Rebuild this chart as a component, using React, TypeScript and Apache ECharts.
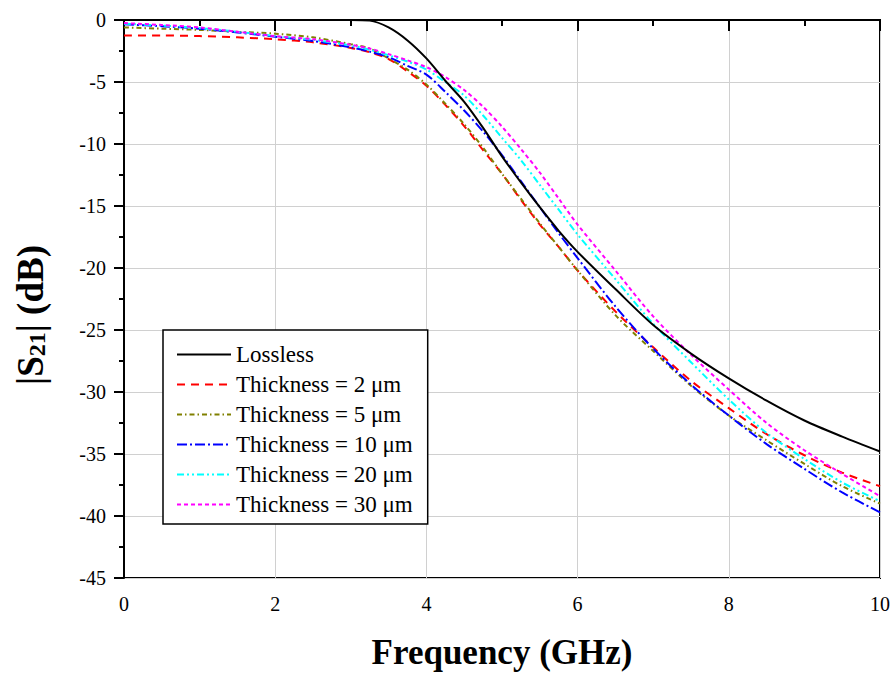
import { useEffect, useRef } from "react";
import * as echarts from "echarts";

const freq = [0, 0.5, 1, 1.5, 2, 2.5, 3, 3.25, 3.5, 3.75, 4, 4.25, 4.5, 4.75, 5, 5.25, 5.5, 5.75, 6, 6.5, 7, 7.5, 8, 8.5, 9, 9.5, 10];
const lossless = [0, 0, 0, 0, 0, 0, 0, -0.05, -0.6, -1.65, -3.1, -4.9, -6.6, -8.7, -11.0, -13.1, -15.1, -17.0, -18.7, -21.7, -24.6, -26.9, -28.9, -30.7, -32.3, -33.6, -34.8];
const t2 = [-1.25, -1.25, -1.3, -1.4, -1.55, -1.8, -2.25, -2.6, -3.15, -4.15, -5.3, -6.85, -8.55, -10.5, -12.4, -14.5, -16.5, -18.3, -20.2, -23.5, -26.4, -29.1, -31.3, -33.4, -35.1, -36.5, -37.6];
const t5 = [-0.6, -0.7, -0.8, -0.95, -1.1, -1.4, -1.95, -2.3, -3.1, -4.0, -5.2, -6.75, -8.4, -10.3, -12.4, -14.4, -16.4, -18.3, -20.2, -23.8, -26.7, -29.5, -31.9, -33.9, -35.8, -37.6, -39.0];
const t10 = [-0.35, -0.5, -0.7, -1.0, -1.35, -1.7, -2.2, -2.55, -3.0, -3.7, -4.4, -5.8, -7.3, -9.0, -10.9, -13.0, -15.1, -17.2, -19.2, -23.1, -26.5, -29.4, -31.9, -34.2, -36.2, -38.1, -39.7];
const t20 = [-0.3, -0.45, -0.65, -0.95, -1.3, -1.6, -2.05, -2.4, -2.85, -3.35, -4.0, -5.0, -6.1, -7.7, -9.5, -11.3, -13.3, -15.3, -17.3, -20.9, -24.5, -27.6, -30.6, -33.3, -35.4, -37.3, -38.8];
const t30 = [-0.25, -0.4, -0.6, -0.95, -1.3, -1.55, -2.0, -2.3, -2.75, -3.25, -3.8, -4.6, -5.65, -7.0, -8.6, -10.4, -12.3, -14.4, -16.5, -20.2, -23.9, -27.0, -29.8, -32.5, -34.7, -36.6, -38.4];

const seriesNames = ["Lossless", "Thickness = 2 μm", "Thickness = 5 μm", "Thickness = 10 μm", "Thickness = 20 μm", "Thickness = 30 μm"];
const seriesValues = [lossless, t2, t5, t10, t20, t30];
const seriesColors = ["#000000", "#FF0000", "#808000", "#0000FF", "#00FFFF", "#FF00FF"];
const seriesDash: any[] = ["solid", [8, 6], [5, 3, 1.5, 3], [10, 3, 2, 3], [7, 3, 2, 3, 2, 3], [4, 3]];

const FONT = "Liberation Serif";

export default function App() {
  const ref = useRef<HTMLDivElement>(null);
  useEffect(() => {
    if (!ref.current) return;
    const chart = echarts.init(ref.current, null, { renderer: "svg" });
    const series = seriesNames.map((name, i) => ({
      name,
      type: "line",
      data: freq.map((f, j) => [f, seriesValues[i][j]]),
      smooth: 0.3,
      symbol: "none",
      lineStyle: { color: seriesColors[i], width: 2, type: seriesDash[i] },
      itemStyle: { color: seriesColors[i] },
      z: i === 0 ? 3 : 2,
    }));
    chart.setOption({
      animation: false,
      backgroundColor: "#ffffff",
      grid: {
        left: 124,
        right: 10,
        top: 20,
        bottom: 95,
        containLabel: false,
        outerBoundsMode: "none",
        show: true,
        borderColor: "#000",
        borderWidth: 2,
      },
      legend: {
        orient: "vertical",
        left: 163,
        top: 330,
        padding: [13, 15, 8, 13],
        itemWidth: 54,
        itemHeight: 14,
        itemGap: 7,
        backgroundColor: "#fff",
        borderColor: "#000",
        borderWidth: 1.5,
        borderRadius: 0,
        data: seriesNames,
        itemStyle: { opacity: 0 },
        textStyle: { fontFamily: FONT, fontSize: 23, color: "#000", lineHeight: 23 },
      },
      xAxis: {
        type: "value",
        min: 0,
        max: 10,
        interval: 2,
        name: "Frequency (GHz)",
        nameLocation: "middle",
        nameGap: 57,
        nameTextStyle: { fontFamily: FONT, fontSize: 35, fontWeight: "bold", color: "#000" },
        axisLine: { show: true, lineStyle: { color: "#000", width: 2 } },
        axisTick: { show: true, inside: false, length: 11, lineStyle: { color: "#000", width: 2 } },
        minorTick: { show: true, splitNumber: 2, length: 6, lineStyle: { color: "#000", width: 2 } },
        axisLabel: { fontFamily: FONT, fontSize: 20, color: "#000", margin: 16 },
        splitLine: { show: true, lineStyle: { color: "#d0d0d0", width: 1 } },
      },
      yAxis: {
        type: "value",
        min: -45,
        max: 0,
        interval: 5,
        name: "{m||S}{s|21}{m|| (dB)}",
        nameLocation: "middle",
        nameRotate: 90,
        nameGap: 75,
        nameTextStyle: {
          fontFamily: FONT,
          color: "#000",
          padding: [0, 32, 0, 0],
          rich: {
            m: { fontFamily: FONT, fontSize: 37, fontWeight: "bold", color: "#000", lineHeight: 37, verticalAlign: "top" },
            s: { fontFamily: FONT, fontSize: 24, fontWeight: "bold", color: "#000", lineHeight: 24, padding: [16, 0, 0, 0], verticalAlign: "bottom" },
          },
        },
        axisLine: { show: true, lineStyle: { color: "#000", width: 2 } },
        axisTick: { show: true, inside: false, length: 10, lineStyle: { color: "#000", width: 2 } },
        minorTick: { show: true, splitNumber: 2, length: 5, lineStyle: { color: "#000", width: 2 } },
        axisLabel: { fontFamily: FONT, fontSize: 20, color: "#000", margin: 18 },
        splitLine: { show: true, lineStyle: { color: "#d0d0d0", width: 1 } },
      },
      series,
    });
    return () => chart.dispose();
  }, []);
  return <div ref={ref} style={{ position: "absolute", left: 0, top: 0, width: 890, height: 673 }} />;
}
